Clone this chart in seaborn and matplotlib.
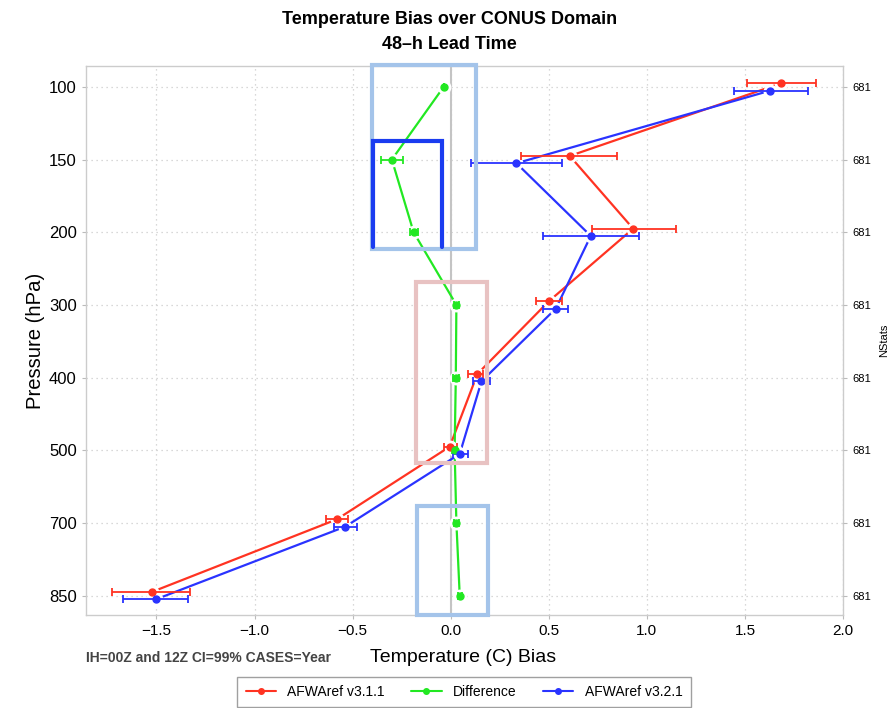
import numpy as np
import pandas as pd
import matplotlib
matplotlib.use("Agg")
import matplotlib.pyplot as plt
import seaborn as sns
from matplotlib.patches import Rectangle
from matplotlib.lines import Line2D

levels = ["100", "150", "200", "300", "400", "500", "700", "850"]
nstats = ["681"] * 8

# AFWAref v3.1.1
v311 = [1.684, 0.607, 0.930, 0.500, 0.136, -0.005, -0.580, -1.524]
v311_lo = [1.51, 0.356, 0.720, 0.437, 0.088, -0.036, -0.638, -1.726]
v311_hi = [1.86, 0.850, 1.148, 0.565, 0.165, 0.030, -0.526, -1.327]

# AFWAref v3.2.1
v321 = [1.630, 0.335, 0.714, 0.536, 0.157, 0.046, -0.537, -1.502]
v321_lo = [1.445, 0.105, 0.468, 0.468, 0.114, 0.012, -0.595, -1.668]
v321_hi = [1.820, 0.568, 0.959, 0.599, 0.199, 0.088, -0.478, -1.337]

# Difference
diff = [-0.036, -0.300, -0.189, 0.029, 0.026, 0.020, 0.029, 0.046]
diff_lo = [-0.036, -0.354, -0.210, 0.015, 0.012, 0.008, 0.015, 0.036]
diff_hi = [-0.036, -0.243, -0.168, 0.043, 0.040, 0.032, 0.043, 0.056]

RED = "#ff3322"
GREEN = "#22e822"
BLUE = "#2a33ff"

sns.set_style("white")
plt.rcParams['font.family'] = ['Liberation Sans', 'DejaVu Sans']
plt.rcParams['text.color'] = 'black'
plt.rcParams['axes.labelcolor'] = 'black'
plt.rcParams['xtick.color'] = 'black'
plt.rcParams['ytick.color'] = 'black'

fig = plt.figure(figsize=(8.94, 7.08), dpi=100)
ax = fig.add_axes([0.096, 0.131, 0.847, 0.776])

pos = np.arange(len(levels))
series = [
    ("AFWAref v3.1.1", v311, v311_lo, v311_hi, RED, -0.05),
    ("Difference", diff, diff_lo, diff_hi, GREEN, 0.0),
    ("AFWAref v3.2.1", v321, v321_lo, v321_hi, BLUE, 0.05),
]

ax.axvline(0, color="#c4c4c4", lw=1.5, zorder=1)

for name, vals, lo, hi, col, off in series:
    df = pd.DataFrame({"x": vals, "y": pos + off})
    sns.lineplot(data=df, x="x", y="y", orient="y", estimator=None,
                 color=col, lw=1.6, ax=ax, zorder=2, legend=False)
    # white halo to leave a small gap around each point
    ax.plot(df["x"], df["y"], "o", ms=9, mfc="white", mec="white", zorder=2.5)
    ax.errorbar(df["x"], df["y"],
                xerr=[np.array(vals) - np.array(lo), np.array(hi) - np.array(vals)],
                fmt="o", color=col, ms=5, elinewidth=1.3, capsize=3,
                capthick=1.3, zorder=3)

ax.set_ylim(7.27, -0.29)
ax.set_xlim(-1.86, 2.0)
ax.set_yticks(pos)
ax.set_yticklabels(levels, fontsize=12)
ax.set_xticks([-1.5, -1.0, -0.5, 0.0, 0.5, 1.0, 1.5, 2.0])
ax.set_xticklabels(["\u22121.5", "\u22121.0", "\u22120.5", "0.0", "0.5", "1.0", "1.5", "2.0"], fontsize=11)
ax.grid(True, ls=(0, (1, 3)), color="#cccccc", lw=0.9)
ax.tick_params(length=3, color="#bbbbbb", direction="out", left=True, bottom=True)
for s in ax.spines.values():
    s.set_color("#cccccc")
    s.set_linewidth(1.0)
ax.set_ylabel("Pressure (hPa)", fontsize=14.6, labelpad=3)
ax.set_xlabel("")

ax2 = ax.twinx()
ax2.set_ylim(ax.get_ylim())
ax2.set_yticks(pos)
ax2.set_yticklabels(nstats, fontsize=8)
ax2.tick_params(length=3, color="#bbbbbb")
ax2.set_ylabel("NStats", fontsize=8, labelpad=6)
for s in ax2.spines.values():
    s.set_visible(False)

# highlight boxes
ax.add_patch(Rectangle((-0.403, -0.30), 0.531, 2.53, fill=False,
                       ec="#a4c4ea", lw=3, clip_on=False, zorder=5))
ax.add_patch(Rectangle((-0.179, 2.68), 0.365, 2.50, fill=False,
                       ec="#e8c2c2", lw=3, clip_on=False, zorder=5))
ax.add_patch(Rectangle((-0.17, 5.77), 0.36, 1.50, fill=False,
                       ec="#a4c4ea", lw=3, clip_on=False, zorder=5))
ax.plot([-0.397, -0.397, -0.045, -0.045], [2.20, 0.744, 0.744, 2.20],
        color="#1a3cf0", lw=3, solid_joinstyle="miter", zorder=6, clip_on=False)

fig.text(0.503, 0.972, "Temperature Bias over CONUS Domain", ha="center",
         va="center", fontsize=13, fontweight="bold")
fig.text(0.503, 0.937, "48\u2013h Lead Time", ha="center", va="center",
         fontsize=13, fontweight="bold")
fig.text(0.518, 0.071, "Temperature (C) Bias", ha="center", va="center",
         fontsize=14)
fig.text(0.096, 0.070, "IH=00Z and 12Z CI=99% CASES=Year", ha="left",
         va="center", fontsize=10, fontweight="bold", color="#444444")

handles = [Line2D([0, 1], [0, 0], color=c, lw=1.5, marker="o", ms=4, markevery=[1])
           for c in (RED, GREEN, BLUE)]
leg = fig.legend(handles, [s[0] for s in series], ncol=3, loc="lower center",
                 bbox_to_anchor=(0.519, -0.009), fontsize=10, frameon=True,
                 fancybox=False, edgecolor="#888888", columnspacing=1.9,
                 handlelength=2.2, borderpad=0.6)
leg.get_frame().set_linewidth(1.0)

fig.savefig("out.png", dpi=100)
